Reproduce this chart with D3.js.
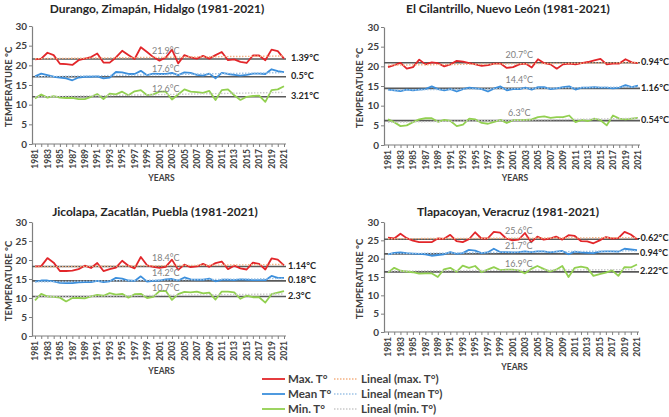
<!DOCTYPE html>
<html>
<head>
<meta charset="utf-8">
<script src="https://cdn.jsdelivr.net/npm/d3@7"></script>
<style>
  body { margin: 0; background: #fff; }
  svg text { font-family: Lato, "Open Sans", sans-serif; }
</style>
</head>
<body>
<script>
var width = 669;
var height = 417;

var years = d3.range(1981, 2022);

// Durango, Zimapán, Hidalgo
var durangoMax = [21.5, 21.7, 23.2, 22.6, 20.4, 20.3, 20.1, 21.3, 21.7, 22.1,
                  23.0, 20.7, 20.7, 22.0, 23.7, 22.6, 21.6, 24.6, 23.4, 22.1,
                  21.2, 22.0, 24.0, 20.5, 22.6, 22.0, 21.7, 22.4, 21.7, 22.6,
                  23.4, 21.3, 21.5, 20.9, 20.6, 22.5, 22.5, 21.3, 24.0, 23.6,
                  21.7];
var durangoMean = [17.2, 17.9, 17.5, 17.1, 16.9, 16.7, 16.2, 16.9, 17.1, 17.1,
                   17.2, 16.7, 16.9, 18.3, 18.2, 17.8, 17.8, 18.6, 17.5, 17.9,
                   17.8, 17.8, 18.1, 17.5, 18.2, 18.1, 17.6, 17.4, 17.9, 16.7,
                   18.1, 17.8, 17.6, 17.4, 17.6, 17.9, 17.9, 17.8, 19.0, 18.5,
                   18.3];
var durangoMin = [11.6, 12.6, 11.8, 12.2, 11.8, 11.7, 11.7, 11.4, 11.4, 12.0,
                  12.7, 11.4, 12.8, 12.6, 13.3, 12.4, 13.4, 13.7, 12.4, 12.6,
                  13.3, 13.3, 11.3, 12.6, 13.9, 13.3, 13.2, 13.0, 13.5, 11.2,
                  13.7, 13.9, 12.4, 11.2, 12.0, 12.2, 12.3, 10.7, 13.7, 13.9,
                  14.7];

// El Cilantrillo, Nuevo León
var cilantrilloMax = [19.8, 20.3, 20.9, 19.4, 19.8, 21.7, 20.5, 21.0, 20.8, 20.0,
                      20.5, 21.4, 21.2, 20.8, 20.5, 20.1, 20.3, 20.7, 20.7, 19.6,
                      19.8, 20.5, 20.7, 19.7, 21.8, 20.8, 20.5, 19.4, 20.5, 20.7,
                      20.5, 20.8, 21.1, 21.5, 21.9, 20.5, 20.7, 20.7, 21.8, 21.0,
                      20.8];
var cilantrilloMean = [14.1, 13.9, 13.7, 14.1, 13.9, 14.1, 14.2, 14.9, 14.2, 13.9,
                       14.2, 13.6, 14.2, 14.6, 14.4, 14.2, 13.6, 14.4, 14.9, 13.9,
                       14.2, 14.2, 14.6, 14.1, 14.7, 14.7, 14.2, 14.4, 14.7, 14.9,
                       14.1, 14.6, 14.6, 14.7, 14.6, 14.6, 14.4, 14.6, 15.2, 14.7,
                       15.1];
var cilantrilloMin = [6.5, 5.8, 4.8, 5.0, 5.8, 6.5, 6.8, 6.8, 5.9, 6.4,
                      6.1, 4.8, 5.2, 6.7, 6.5, 5.6, 5.4, 5.9, 6.4, 5.6,
                      6.3, 6.3, 6.4, 6.5, 7.1, 7.3, 6.9, 7.1, 7.1, 7.5,
                      5.8, 6.4, 6.1, 6.7, 6.3, 5.0, 7.5, 6.7, 6.5, 6.7,
                      6.9];

// Jicolapa, Zacatlán, Puebla
var jicolapaMax = [18.3, 18.4, 20.5, 19.3, 17.1, 17.1, 17.2, 17.6, 18.5, 17.9,
                   19.2, 17.1, 17.6, 18.0, 19.8, 18.5, 17.8, 20.8, 18.6, 18.2,
                   17.9, 18.2, 20.1, 17.4, 18.8, 18.1, 18.3, 19.0, 18.2, 19.2,
                   19.6, 17.6, 18.5, 17.8, 17.5, 19.3, 19.0, 17.5, 20.4, 20.1,
                   18.6];
var jicolapaMean = [14.3, 14.6, 14.6, 14.4, 14.0, 13.9, 13.9, 14.1, 14.2, 14.2,
                    14.5, 14.2, 14.4, 15.3, 15.1, 14.6, 14.5, 15.7, 14.3, 14.5,
                    14.6, 14.9, 15.0, 14.6, 15.4, 14.9, 14.8, 14.8, 15.1, 14.4,
                    14.8, 14.8, 14.7, 14.9, 14.8, 14.7, 14.7, 14.7, 15.8, 15.3,
                    15.3];
var jicolapaMin = [9.4, 11.1, 10.4, 10.3, 10.1, 9.1, 10.0, 10.0, 9.9, 10.4,
                   10.8, 10.6, 11.3, 10.9, 11.1, 10.1, 11.0, 11.1, 10.0, 10.3,
                   11.8, 11.9, 9.5, 11.0, 11.6, 11.5, 11.7, 11.2, 11.4, 9.6,
                   11.7, 11.7, 11.5, 9.8, 10.6, 10.2, 10.2, 8.8, 11.0, 11.4,
                   11.8];

// Tlapacoyan, Veracruz
var tlapacoyanMax = [25.7, 25.5, 26.8, 25.6, 24.9, 24.5, 24.5, 24.5, 25.5, 25.4,
                     26.5, 24.8, 24.5, 25.3, 27.2, 25.5, 25.5, 27.3, 27.1, 25.5,
                     25.0, 25.2, 27.0, 24.5, 26.0, 25.2, 25.5, 26.0, 25.2, 26.4,
                     26.2, 24.8, 24.7, 24.2, 25.0, 25.9, 25.5, 25.6, 27.3, 26.6,
                     25.3];
var tlapacoyanMean = [21.2, 21.6, 21.7, 21.5, 21.4, 21.3, 21.2, 20.8, 21.0, 21.2,
                      21.8, 21.3, 21.5, 22.4, 22.2, 21.5, 21.7, 22.7, 21.8, 21.8,
                      21.7, 21.8, 22.0, 21.8, 22.0, 22.0, 21.7, 21.9, 22.1, 21.2,
                      21.9, 21.7, 21.6, 21.5, 21.9, 22.0, 22.0, 21.9, 22.7, 22.5,
                      22.3];
var tlapacoyanMin = [16.2, 17.5, 16.7, 16.5, 16.3, 15.9, 16.0, 16.0, 15.0, 17.1,
                     17.5, 16.4, 18.1, 17.5, 18.0, 16.3, 17.0, 17.7, 16.9, 17.0,
                     17.0, 16.8, 16.0, 17.2, 18.0, 17.2, 16.5, 17.0, 18.0, 15.0,
                     17.5, 17.8, 17.5, 15.3, 15.8, 16.2, 16.8, 15.3, 17.7, 17.6,
                     18.4];

var titles = ['Durango, Zimapán, Hidalgo (1981-2021)', 'El Cilantrillo, Nuevo León (1981-2021)',
              'Jicolapa, Zacatlán, Puebla (1981-2021)', 'Tlapacoyan, Veracruz (1981-2021)'];
// black reference lines (max, mean, min)
var refLines = [[21.6, 17.1, 12.0], [20.9, 14.4, 6.2], [18.3, 14.5, 10.4], [25.3, 21.3, 16.4]];
var refLabels = [['21.9°C', '17.6°C', '12.6°C'], ['20.7°C', '14.4°C', '6.3°C'],
                 ['18.4°C', '14.2°C', '10.7°C'], ['25.6°C', '21.7°C', '16.9°C']];
var changeLabels = [['1.39°C', '0.5°C', '3.21°C'], ['0.94°C', '1.16°C', '0.54°C'],
                    ['1.14°C', '0.18°C', '2.3°C'], ['-0.62°C', '0.94°C', '2.22°C']];
var series = [[durangoMax, durangoMean, durangoMin],
              [cilantrilloMax, cilantrilloMean, cilantrilloMin],
              [jicolapaMax, jicolapaMean, jicolapaMin],
              [tlapacoyanMax, tlapacoyanMean, tlapacoyanMin]];
var yTicks = [0, 5, 10, 15, 20, 25, 30];
var legendNames = ['Max. T°', 'Mean T°', 'Min. T°'];
var trendNames = ['Lineal (max. T°)', 'Lineal (mean T°)', 'Lineal (min. T°)'];

var lineColors = ['#e2262a', '#3c8fdc', '#92d050'];
var trendColors = ['#f4b183', '#9dc3e6', '#c9c9c9'];

// panel frames: axis x, first/last year x, y of 0 and 30
var panels = [
  {axis: 32, x0: 35, x1: 284, y0: 144, y1: 26, titleX: 157, titleY: 13, labelX: 291, yearsY: 181, yLabelX: 9},
  {axis: 384, x0: 388, x1: 638, y0: 145, y1: 27, titleX: 508, titleY: 13, labelX: 641, yearsY: 181, yLabelX: 360},
  {axis: 32, x0: 35, x1: 284, y0: 336, y1: 222, titleX: 155, titleY: 216, labelX: 288, yearsY: 374, yLabelX: 9},
  {axis: 384, x0: 388, x1: 637, y0: 332, y1: 222, titleX: 508, titleY: 216, labelX: 640, yearsY: 370, yLabelX: 360}
];

function trend(vals) {
  var mx = d3.mean(years), my = d3.mean(vals);
  var num = d3.sum(years, function(d, i){ return (d - mx) * (vals[i] - my); });
  var den = d3.sum(years, function(d){ return (d - mx) * (d - mx); });
  var b = num / den;
  return function(x){ return my + b * (x - mx); };
}

var svg = d3.select('body').append('svg')
  .attr('width', width)
  .attr('height', height);

panels.forEach(function(p, k) {
  var x = d3.scaleLinear().domain([1981, 2021]).range([p.x0, p.x1]);
  var y = d3.scaleLinear().domain([0, 30]).range([p.y0, p.y1]);
  var g = svg.append('g');

  g.append('text')
    .attr('x', p.titleX).attr('y', p.titleY)
    .attr('text-anchor', 'middle')
    .attr('font-size', 12).attr('font-weight', 'bold').attr('fill', '#262626')
    .text(titles[k]);

  var yAxis = g.append('g')
    .attr('transform', 'translate(' + p.axis + ',0)')
    .call(d3.axisLeft(y).tickValues(yTicks).tickSize(3).tickSizeOuter(0));
  yAxis.select('.domain').attr('stroke', '#7f7f7f').attr('stroke-width', 1.2);
  yAxis.selectAll('.tick line').attr('stroke', '#7f7f7f');
  yAxis.selectAll('text').attr('font-size', 10).attr('font-weight', 'bold').attr('fill', '#404040').attr('x', -5);

  var xAxis = g.append('g')
    .attr('transform', 'translate(0,' + p.y0 + ')')
    .call(d3.axisBottom(x).tickValues(years).tickSize(3).tickSizeOuter(0)
      .tickFormat(function(d){ return (d - 1981) % 2 === 0 ? d : ''; }));
  xAxis.select('.domain').attr('stroke', '#7f7f7f').attr('stroke-width', 1.2)
    .attr('d', 'M' + p.axis + ',0H' + (p.x1 + 2));
  xAxis.selectAll('.tick line').attr('stroke', '#7f7f7f');
  xAxis.selectAll('text')
    .attr('font-size', 8.5).attr('font-weight', 'bold').attr('fill', '#404040')
    .attr('transform', 'rotate(-90)')
    .attr('text-anchor', 'end')
    .attr('x', -5).attr('y', 0).attr('dy', '0.32em');

  g.append('text')
    .attr('x', (p.x0 + p.x1) / 2 + 2).attr('y', p.yearsY)
    .attr('text-anchor', 'middle')
    .attr('font-size', 8.5).attr('font-weight', 'bold').attr('fill', '#404040')
    .text('YEARS');

  g.append('text')
    .attr('transform', 'translate(' + p.yLabelX + ',' + ((p.y0 + p.y1) / 2 + 2) + ') rotate(-90)')
    .attr('text-anchor', 'middle').attr('dy', '0.35em')
    .attr('font-size', 9.5).attr('font-weight', 'bold').attr('fill', '#404040')
    .text('TEMPERATURE °C');

  var line = d3.line()
    .x(function(d, i){ return x(years[i]); })
    .y(function(d){ return y(d); });

  series[k].forEach(function(vals, s) {
    // reference line
    g.append('line')
      .attr('x1', p.axis).attr('x2', p.x1 + 2)
      .attr('y1', y(refLines[k][s])).attr('y2', y(refLines[k][s]))
      .attr('stroke', '#595959').attr('stroke-width', 1.6);

    g.append('path')
      .datum(vals)
      .attr('d', line)
      .attr('fill', 'none')
      .attr('stroke', lineColors[s])
      .attr('stroke-width', 1.8)
      .attr('stroke-linejoin', 'round');

    var t = trend(vals);
    g.append('line')
      .attr('x1', x(1981)).attr('x2', x(2021))
      .attr('y1', y(t(1981))).attr('y2', y(t(2021)))
      .attr('stroke', trendColors[s]).attr('stroke-width', 1.4)
      .attr('stroke-dasharray', '1.5,1.5');

    g.append('text')
      .attr('x', x(2002)).attr('y', y(refLines[k][s]) - 5)
      .attr('text-anchor', 'middle')
      .attr('font-size', 9).attr('fill', '#7f7f7f')
      .text(refLabels[k][s]);

    var lab = changeLabels[k][s];
    g.append('text')
      .attr('x', p.labelX - (lab.charAt(0) === '-' ? 3 : 0)).attr('y', y(refLines[k][s]) - 1)
      .attr('dy', '0.35em')
      .attr('font-size', 9.2).attr('font-weight', 'bold').attr('fill', '#262626')
      .text(lab);
  });
});

// legend
var legend = svg.append('g');
legendNames.forEach(function(name, i) {
  var ly = 379 + i * 15;
  legend.append('line')
    .attr('x1', 262).attr('x2', 285).attr('y1', ly).attr('y2', ly)
    .attr('stroke', lineColors[i]).attr('stroke-width', 1.8);
  legend.append('text')
    .attr('x', 288).attr('y', ly).attr('dy', '0.35em')
    .attr('font-size', 11.5).attr('font-weight', 'bold').attr('fill', '#404040')
    .text(name);
  legend.append('line')
    .attr('x1', 334).attr('x2', 358).attr('y1', ly).attr('y2', ly)
    .attr('stroke', trendColors[i]).attr('stroke-width', 1.4)
    .attr('stroke-dasharray', '1.5,1.5');
  legend.append('text')
    .attr('x', 361).attr('y', ly).attr('dy', '0.35em')
    .attr('font-size', 11.5).attr('font-weight', 'bold').attr('fill', '#404040')
    .text(trendNames[i]);
});
</script>
</body>
</html>
